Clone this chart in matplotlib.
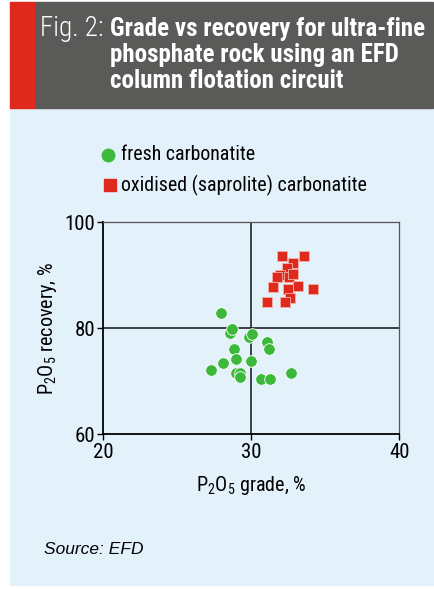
import matplotlib
matplotlib.use('Agg')
import matplotlib.pyplot as plt
from matplotlib import font_manager
from matplotlib.patches import Rectangle

# P2O5 grade (%) and recovery (%)
fresh_grade = [27.94, 28.54, 28.66, 29.85, 30.05, 31.06, 31.17, 28.84, 28.95,
               28.05, 29.96, 27.24, 28.99, 29.26, 29.26, 30.63, 31.26, 32.68]
fresh_recovery = [82.8, 79.2, 79.8, 78.3, 78.9, 77.5, 76.1, 76.1, 74.2,
                  73.5, 73.8, 72.1, 71.6, 71.6, 70.8, 70.4, 70.4, 71.5]

oxid_grade = [32.07, 33.55, 32.81, 32.41, 31.91, 32.54, 32.79, 31.76, 31.46,
              32.47, 33.15, 34.16, 32.59, 32.25, 31.06]
oxid_recovery = [93.6, 93.6, 92.3, 91.3, 90.05, 89.7, 90.2, 89.7, 87.7,
                 87.5, 88.0, 87.4, 85.7, 85.0, 84.9]

x_ticks = [20, 30, 40]
y_ticks = [60, 80, 100]
legend_labels = ['fresh carbonatite', 'oxidised (saprolite) carbonatite']

GREEN = '#3cb93a'
RED = '#e0291d'
GREY = '#5a5a58'
PANEL = '#e3f1fb'


def pick(candidates):
    names = {f.name for f in font_manager.fontManager.ttflist}
    for c in candidates:
        if c in names:
            return c
    return 'Liberation Sans'


cond = pick(['Roboto Condensed', 'Archivo Narrow', 'PT Sans Narrow',
             'Encode Sans Condensed', 'Sofia Sans Condensed'])
plt.rcParams['font.family'] = [cond, 'DejaVu Sans']
plt.rcParams['mathtext.fontset'] = 'custom'
plt.rcParams['mathtext.rm'] = cond
plt.rcParams['mathtext.it'] = cond

W, H = 435, 589
fig = plt.figure(figsize=(W / 100, H / 100), dpi=100)


def fx(px):
    return px / W


def fy(py):
    return 1 - py / H


# background blocks
for x0, y0, w, h, c in [(10, 585, 423, 477, PANEL), (34, 108, 399, 106, GREY),
                        (10, 108, 24, 106, RED)]:
    fig.patches.append(Rectangle((fx(x0), fy(y0)), fx(w), h / H, color=c,
                                 transform=fig.transFigure, zorder=-5))

# header
fig.text(fx(40), fy(36), 'Fig. 2:', color='white', fontsize=19.5,
         fontweight='light', va='baseline', ha='left')
title_lines = ['Grade vs recovery for ultra-fine',
               'phosphate rock using an EFD',
               'column flotation circuit']
for i, line in enumerate(title_lines):
    fig.text(fx(110), fy(36 + 26 * i), line, color='white', fontsize=18,
             fontweight='bold', va='baseline', ha='left')

ax = fig.add_axes([fx(103.3), fy(434.3), fx(399.5 - 103.3),
                   (434.3 - 222.3) / H])
ax.set_zorder(2)
ax.set_facecolor(PANEL)

ax.scatter(fresh_grade, fresh_recovery, s=70, marker='o', color=GREEN,
           edgecolors='white', linewidths=0.6, zorder=3, clip_on=False)
ax.scatter(oxid_grade, oxid_recovery, s=62, marker='s', color=RED,
           edgecolors='#f4b0aa', linewidths=0.6, zorder=3, clip_on=False)

ax.set_xlim(20, 40)
ax.set_ylim(60, 100)
ax.set_xticks(x_ticks)
ax.set_yticks(y_ticks)
ax.tick_params(labelsize=15, length=4, width=1, direction='out', pad=2)
ax.axvline(30, color='#111111', lw=1.1, zorder=2)
ax.axhline(80, color='#111111', lw=1.1, zorder=2)
for side in ['left', 'bottom']:
    ax.spines[side].set_linewidth(1.3)
    ax.spines[side].set_color('black')
for side in ['top', 'right']:
    ax.spines[side].set_linewidth(0.9)
    ax.spines[side].set_color('#555555')

ax.set_xlabel('P$_2$O$_5$ grade, %', fontsize=14.5, labelpad=9)
ax.set_ylabel('P$_2$O$_5$ recovery, %', fontsize=14.5, labelpad=4)

# legend drawn by hand in figure space
fig.lines.append(plt.Line2D([fx(108)], [fy(155)], marker='o', markersize=9,
                            color=GREEN, transform=fig.transFigure))
fig.lines.append(plt.Line2D([fx(110)], [fy(185.5)], marker='s', markersize=9,
                            color=RED, transform=fig.transFigure))
fig.text(fx(121), fy(155), legend_labels[0], fontsize=14.3, va='center')
fig.text(fx(121), fy(185.5), legend_labels[1], fontsize=14.3, va='center')

fig.text(fx(44), fy(550), 'Source: EFD', fontsize=12.5, style='italic',
         family='Liberation Sans', va='center', ha='left')

fig.savefig('out.png', dpi=100)
